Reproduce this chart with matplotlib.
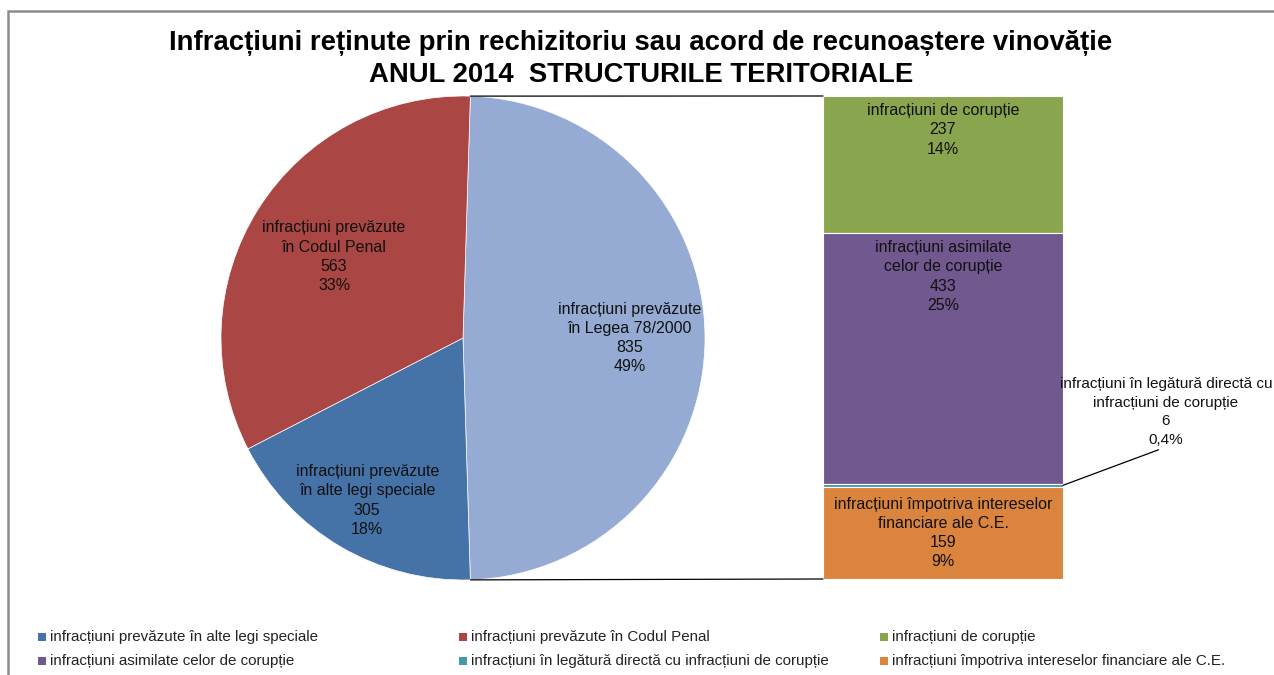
import matplotlib
matplotlib.use("Agg")
import matplotlib.pyplot as plt
from matplotlib.patches import ConnectionPatch, Rectangle
import numpy as np

plt.rcParams["font.family"] = ["Liberation Sans", "DejaVu Sans"]

# Pie: main categories (first one is split into the bar)
pie_names = [
    "infracțiuni prevăzute\nîn Legea 78/2000",
    "infracțiuni prevăzute\nîn alte legi speciale",
    "infracțiuni prevăzute\nîn Codul Penal",
]
pie_values = [835, 305, 563]
pie_colors = ["#95ABD4", "#4572A7", "#AA4643"]

# Bar: breakdown of Legea 78/2000 (top to bottom)
bar_names = [
    "infracțiuni de corupție",
    "infracțiuni asimilate\ncelor de corupție",
    "infracțiuni în legătură directă cu\ninfracțiuni de corupție",
    "infracțiuni împotriva intereselor\nfinanciare ale C.E.",
]
bar_values = [237, 433, 6, 159]
bar_colors = ["#89A54E", "#71588F", "#4198AF", "#DB843D"]

title = ("Infracțiuni reținute prin rechizitoriu sau acord de recunoaștere vinovăție\n"
         "ANUL 2014  STRUCTURILE TERITORIALE")

total = sum(pie_values[1:]) + sum(bar_values)


def pct_text(v):
    p = v / total * 100
    if p < 1:
        return f"{p:.1f}%".replace(".", ",")
    return f"{p:.0f}%"


W, H = 1274, 675
fig = plt.figure(figsize=(W / 100, H / 100), dpi=100)

# chart border (extends beyond the right/bottom edges)
fig.patches.append(Rectangle((8 / W, -0.1), 1.2, (H - 11) / H + 0.1,
                             transform=fig.transFigure, fill=False,
                             edgecolor="#8c8c8c", linewidth=1.8))

fig.text(0.503, (H - 59) / H, title, ha="center", va="center", fontsize=19.8,
         fontweight="bold", linespacing=1.27)

label_kw = dict(fontsize=11.5, linespacing=1.36, color="#111111", ha="center")

# ---- pie ----
ax_pie = fig.add_axes([221 / W, (H - 580) / H, 484 / W, 484 / H])
span0 = 360 * pie_values[0] / sum(pie_values)
wedges, _ = ax_pie.pie(pie_values, colors=pie_colors, startangle=span0 / 2,
                       counterclock=False, radius=1,
                       wedgeprops=dict(linewidth=0.5, edgecolor="white"))
ax_pie.set_xlim(-1, 1)
ax_pie.set_ylim(-1, 1)
ax_pie.set_aspect("equal")
ax_pie.axis("off")

label_r = [0.69, 0.78, 0.63]
for w, name, v, r in zip(wedges, pie_names, pie_values, label_r):
    mid = np.deg2rad((w.theta1 + w.theta2) / 2)
    ax_pie.text(r * np.cos(mid), r * np.sin(mid), f"{name}\n{v}\n{pct_text(v)}",
                va="center", **label_kw)

# ---- bar ----
ax_bar = fig.add_axes([823 / W, 96 / H, 240 / W, 483 / H])
bar_total = sum(bar_values)
tops = bar_total - np.concatenate([[0], np.cumsum(bar_values)[:-1]])
for name, v, c, top in zip(bar_names, bar_values, bar_colors, tops):
    ax_bar.bar(0, v, bottom=top - v, width=1, color=c, edgecolor="white", linewidth=0.8)
ax_bar.set_xlim(-0.5, 0.5)
ax_bar.set_ylim(0, bar_total)
ax_bar.axis("off")

for i, (name, v, top) in enumerate(zip(bar_names, bar_values, tops)):
    txt = f"{name}\n{v}\n{pct_text(v)}"
    if v < 20:
        # tiny slice: label outside with a leader line
        kw = dict(label_kw, fontsize=11, linespacing=1.42)
        ax_bar.annotate(txt, xy=(0.5, top - v / 2), xycoords="data",
                        xytext=(1166, H - 447), textcoords="figure pixels",
                        va="bottom", annotation_clip=False,
                        arrowprops=dict(arrowstyle="-", color="black", lw=0.9,
                                        shrinkA=0, shrinkB=0, relpos=(0.5, 0)),
                        **kw)
    elif v < 200:
        ax_bar.text(0, top - v / 2, txt, va="center", **label_kw)
    else:
        ax_bar.annotate(txt, xy=(0, top), xytext=(0, -5), textcoords="offset points",
                        va="top", **label_kw)

# connector lines pie -> bar
a1 = np.deg2rad(wedges[0].theta1)
a2 = np.deg2rad(wedges[0].theta2)
for ang, yb in [(a2, bar_total), (a1, 0)]:
    con = ConnectionPatch(xyA=(np.cos(ang), np.sin(ang)), coordsA=ax_pie.transData,
                          xyB=(-0.5, yb), coordsB=ax_bar.transData,
                          color="black", linewidth=0.9)
    fig.add_artist(con)

# ---- legend (grid of 3 columns) ----
legend_names = [n.replace("\n", " ") for n in pie_names[1:] + bar_names]
legend_colors = pie_colors[1:] + bar_colors
for i, (name, c) in enumerate(zip(legend_names, legend_colors)):
    col, row = i % 3, i // 3
    x = 38 + col * 421
    y = H - (637 + row * 24)
    fig.patches.append(Rectangle((x / W, (y - 4) / H), 8 / W, 8 / H,
                                 transform=fig.transFigure, facecolor=c, edgecolor="none"))
    fig.text((x + 12) / W, y / H, name, va="center", ha="left", fontsize=10.9,
             color="#222222")

fig.savefig("out.png", dpi=100)
